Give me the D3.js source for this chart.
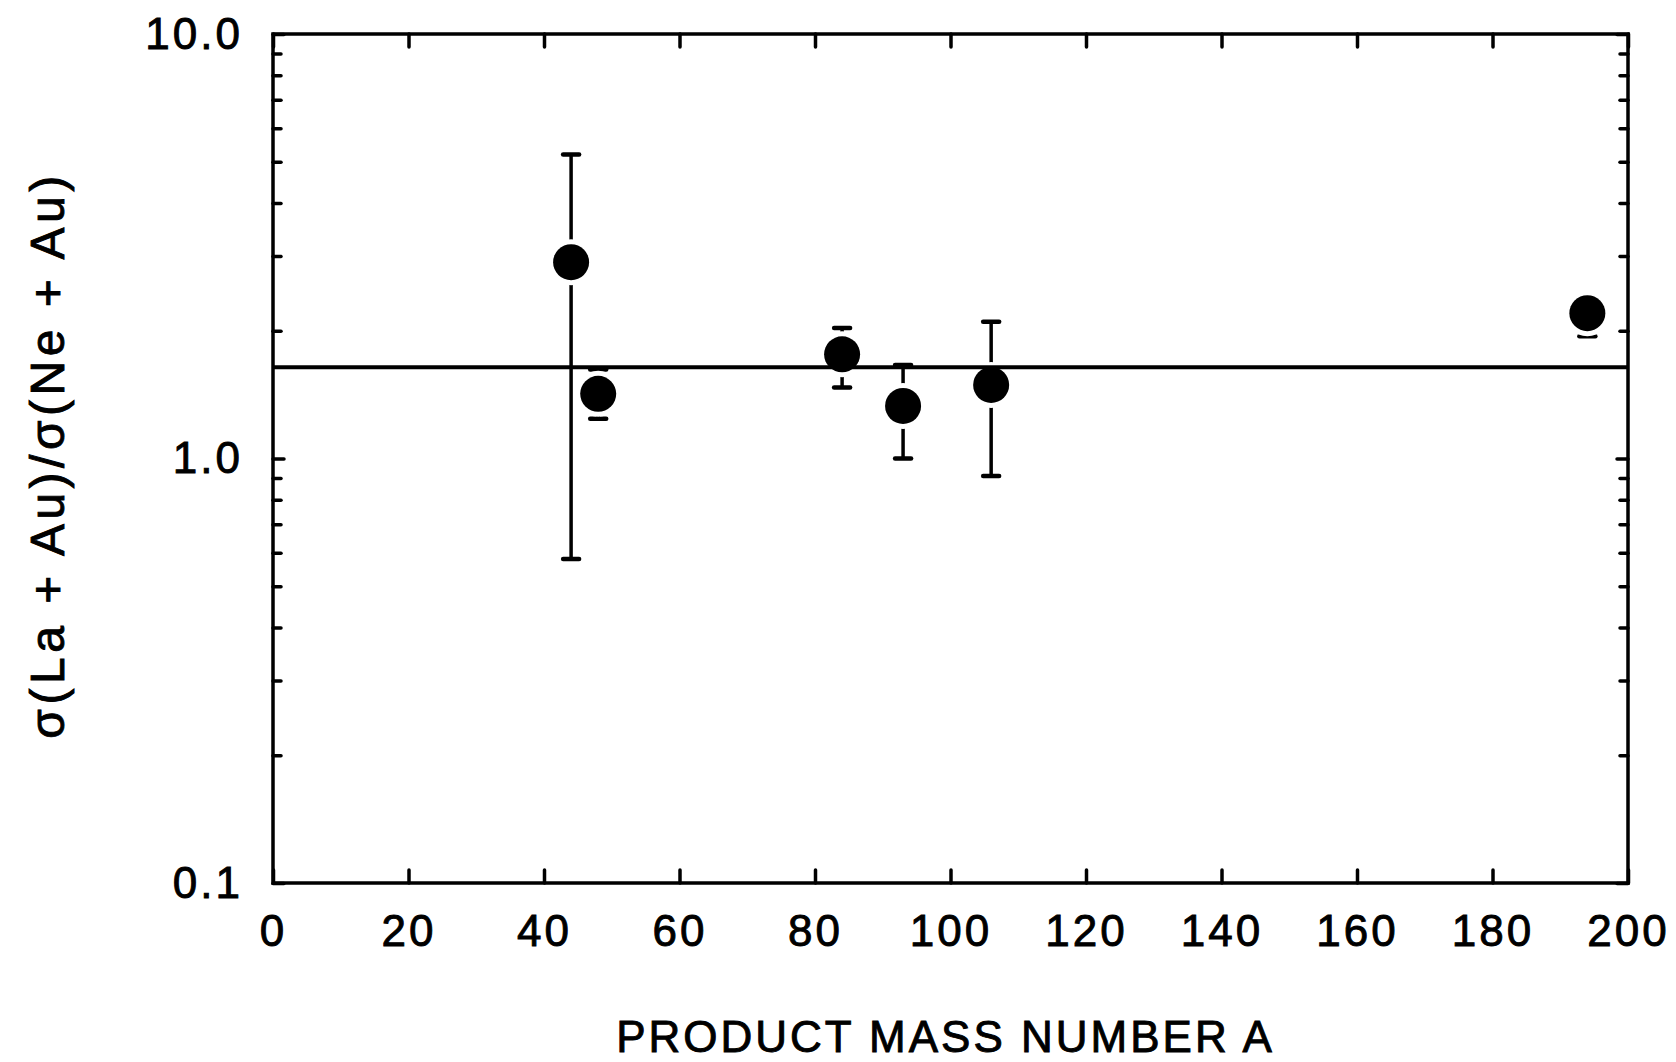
<!DOCTYPE html>
<html>
<head>
<meta charset="utf-8">
<script src="https://cdn.jsdelivr.net/npm/d3@7"></script>
<style>
  body { margin: 0; background: #fff; }
  text { font-family: "Liberation Sans", Arial, sans-serif; fill: #000; stroke: #000; stroke-width: 0.9px; }
</style>
</head>
<body>
<svg id="chart" width="1676" height="1062"></svg>
<script>
// Data
const massNumbers = [44, 48, 84, 93, 106, 194];
const ratios = [2.9, 1.42, 1.76, 1.33, 1.49, 2.2];
const errLow = [0.58, 1.24, 1.47, 1.0, 0.91, 1.94];
const errHigh = [5.2, 1.62, 2.03, 1.66, 2.1, 2.4];
const meanRatio = 1.64;

const xTicks = [0, 20, 40, 60, 80, 100, 120, 140, 160, 180, 200];
const yMajorTicks = [0.1, 1.0, 10.0];

const points = massNumbers.map((a, i) => ({
  a: a,
  r: ratios[i],
  lo: errLow[i],
  hi: errHigh[i],
}));

const margins = { left: 273, right: 48, top: 34, bottom: 179 };
const width = 1676;
const height = 1062;
const innerWidth = width - margins.left - margins.right;
const innerHeight = height - margins.top - margins.bottom;

const svg = d3.select("#chart");

// Scales
const x = d3
  .scaleLinear()
  .domain([0, 200])
  .range([margins.left, margins.left + innerWidth]);

const y = d3
  .scaleLog()
  .domain([0.1, 10])
  .range([margins.top + innerHeight, margins.top]);

// All log ticks (majors + minors)
const yAllTicks = y.ticks();
const yMinorTicks = yAllTicks.filter((t) => !yMajorTicks.some((m) => Math.abs(m - t) < 1e-9));

const lineW = 3.5;

// Bottom axis
const xBottom = svg
  .append("g")
  .attr("transform", `translate(0, ${margins.top + innerHeight})`)
  .call(
    d3.axisBottom(x)
      .tickValues(xTicks)
      .tickSizeInner(-13)
      .tickSizeOuter(0)
      .tickPadding(32)
      .tickFormat(d3.format("d"))
  );
xBottom.selectAll("text")
  .attr("font-size", "44px")
  .attr("letter-spacing", "3px");

// Top axis (ticks only)
svg
  .append("g")
  .attr("transform", `translate(0, ${margins.top})`)
  .call(d3.axisTop(x).tickValues(xTicks).tickSizeInner(-13).tickSizeOuter(0).tickFormat(""));

// Left axis, majors with labels
const yLeft = svg
  .append("g")
  .attr("transform", `translate(${margins.left}, 0)`)
  .call(
    d3.axisLeft(y)
      .tickValues(yMajorTicks)
      .tickSizeInner(-11)
      .tickSizeOuter(0)
      .tickPadding(30)
      .tickFormat(d3.format(".1f"))
  );
yLeft.selectAll("text")
  .attr("font-size", "44px")
  .attr("letter-spacing", "3px");

// Left axis minors
svg
  .append("g")
  .attr("transform", `translate(${margins.left}, 0)`)
  .call(d3.axisLeft(y).tickValues(yMinorTicks).tickSizeInner(-8).tickSizeOuter(0).tickFormat(""));

// Right axis majors + minors
svg
  .append("g")
  .attr("transform", `translate(${margins.left + innerWidth}, 0)`)
  .call(d3.axisRight(y).tickValues(yMajorTicks).tickSizeInner(-11).tickSizeOuter(0).tickFormat(""));
svg
  .append("g")
  .attr("transform", `translate(${margins.left + innerWidth}, 0)`)
  .call(d3.axisRight(y).tickValues(yMinorTicks).tickSizeInner(-8).tickSizeOuter(0).tickFormat(""));

svg.selectAll(".domain").remove();
svg.selectAll(".tick line")
  .attr("stroke", "#000")
  .attr("stroke-width", lineW)
  .attr("stroke-linecap", "round");

// Frame
svg
  .append("rect")
  .attr("x", x(0))
  .attr("y", y(10))
  .attr("width", x(200) - x(0))
  .attr("height", y(0.1) - y(10))
  .attr("fill", "none")
  .attr("stroke", "#000")
  .attr("stroke-width", lineW);

// Error bars
const capHalf = 8;
const errG = svg.append("g");
errG
  .selectAll("line.err")
  .data(points)
  .join("line")
  .attr("class", "err")
  .attr("x1", (d) => x(d.a))
  .attr("x2", (d) => x(d.a))
  .attr("y1", (d) => y(d.lo))
  .attr("y2", (d) => y(d.hi))
  .attr("stroke", "#000")
  .attr("stroke-width", lineW);
errG
  .selectAll("line.capHi")
  .data(points)
  .join("line")
  .attr("class", "capHi")
  .attr("x1", (d) => x(d.a) - capHalf)
  .attr("x2", (d) => x(d.a) + capHalf)
  .attr("y1", (d) => y(d.hi))
  .attr("y2", (d) => y(d.hi))
  .attr("stroke", "#000")
  .attr("stroke-width", 4.5)
  .attr("stroke-linecap", "round");
errG
  .selectAll("line.capLo")
  .data(points)
  .join("line")
  .attr("class", "capLo")
  .attr("x1", (d) => x(d.a) - capHalf)
  .attr("x2", (d) => x(d.a) + capHalf)
  .attr("y1", (d) => y(d.lo))
  .attr("y2", (d) => y(d.lo))
  .attr("stroke", "#000")
  .attr("stroke-width", 4.5)
  .attr("stroke-linecap", "round");

// White halo round markers (gap in error bars)
svg
  .append("g")
  .selectAll("circle")
  .data(points)
  .join("circle")
  .attr("cx", (d) => x(d.a))
  .attr("cy", (d) => y(d.r))
  .attr("r", 23)
  .attr("fill", "#fff");

// Mean ratio line
svg
  .append("line")
  .attr("x1", x(0))
  .attr("x2", x(200))
  .attr("y1", y(meanRatio))
  .attr("y2", y(meanRatio))
  .attr("stroke", "#000")
  .attr("stroke-width", 4);

// Markers
svg
  .append("g")
  .selectAll("circle")
  .data(points)
  .join("circle")
  .attr("cx", (d) => x(d.a))
  .attr("cy", (d) => y(d.r))
  .attr("r", 18)
  .attr("fill", "#000");

// Axis titles
svg
  .append("text")
  .attr("x", margins.left + innerWidth / 2 - 5)
  .attr("y", 1052)
  .attr("text-anchor", "middle")
  .attr("font-size", "44px")
  .attr("letter-spacing", "3px")
  .text("PRODUCT MASS NUMBER A");

svg
  .append("text")
  .attr("transform", `translate(64, 455) rotate(-90)`)
  .attr("text-anchor", "middle")
  .attr("font-size", "48px")
  .attr("letter-spacing", "4.5px")
  .text("σ(La + Au)/σ(Ne + Au)");
</script>
</body>
</html>
